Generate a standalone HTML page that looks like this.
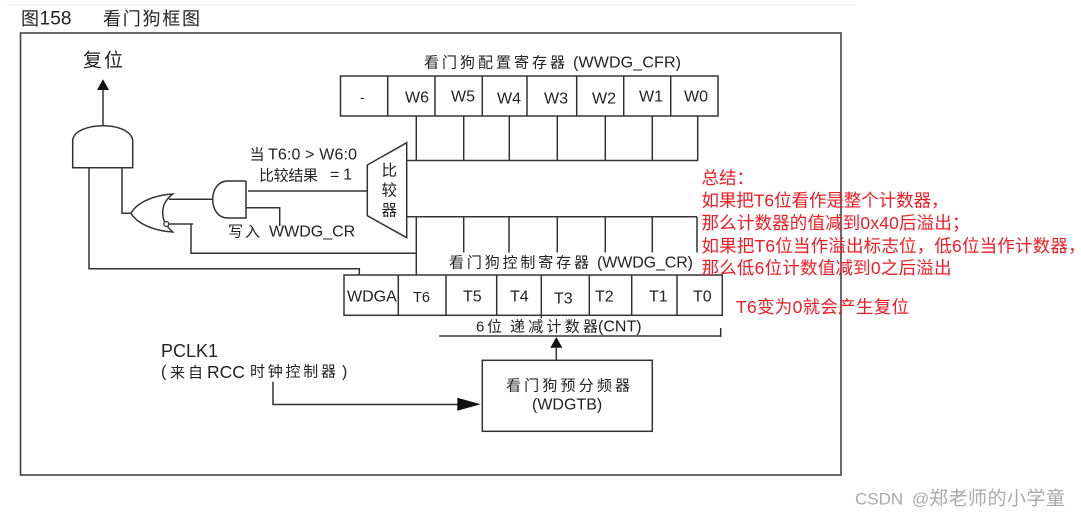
<!DOCTYPE html>
<html lang="zh">
<head>
<meta charset="utf-8">
<title>看门狗框图</title>
<style>
html,body{margin:0;padding:0;background:#fff;width:1081px;height:518px;overflow:hidden}
svg{display:block}
text{font-family:"Liberation Sans","Noto Sans CJK SC",sans-serif;fill:#222;dominant-baseline:central}
.r{fill:#f01c24;font-size:17.5px}
.l{fill:none;stroke:#333;stroke-width:1.5}
.c{font-size:15px}
.a{font-size:16px}
.g{fill:#aaa}
</style>
</head>
<body>
<svg width="1081" height="518" viewBox="0 0 1081 518" xmlns="http://www.w3.org/2000/svg">
<line x1="7" y1="4.5" x2="855" y2="4.5" stroke="#f0f0f0" stroke-width="1"/>
<rect x="20.5" y="33" width="820.5" height="442" fill="none" stroke="#444" stroke-width="1.6"/>

<text x="21" y="19" font-size="18">图</text>
<text x="39.5" y="19" font-size="19" textLength="32">158</text>
<text x="103" y="19" font-size="18" textLength="97">看门狗框图</text>
<text x="83" y="61" font-size="19" textLength="40">复位</text>

<!-- CFR register -->
<text class="c" x="424" y="63" textLength="141">看门狗配置寄存器</text>
<text class="a" x="573" y="63" font-size="16.3" textLength="108">(WWDG_CFR)</text>
<rect x="340.5" y="76" width="377.5" height="40" class="l"/>
<path class="l" d="M387.7 76V116M435 76V116M482.3 76V116M527 76V116M576.7 76V116M623.7 76V116M670.7 76V116"/>
<text x="360" y="97" font-size="14">-</text>
<text class="a" x="405" y="98">W6</text>
<text class="a" x="451" y="97">W5</text>
<text class="a" x="497" y="99">W4</text>
<text class="a" x="544" y="99">W3</text>
<text class="a" x="592" y="99">W2</text>
<text class="a" x="639" y="97">W1</text>
<text class="a" x="684" y="97">W0</text>

<!-- upper bus -->
<path class="l" d="M416.3 116V160.5M463.7 116V160.5M509.3 116V160.5M557.3 116V160.5M605.3 116V160.5M652.3 116V160.5M697.7 116V160.5M406 160.5H698"/>

<!-- comparator -->
<polygon class="l" points="406.7,142.7 367.3,165 367.3,215.7 406.7,237.7"/>
<text x="381.5" y="171" font-size="15.5">比</text>
<text x="381.5" y="191" font-size="15.5">较</text>
<text x="381.5" y="211" font-size="15.5">器</text>

<!-- lower bus -->
<path class="l" d="M406 216.7H697M416.3 216.7V275M463.7 216.7V252.5M509 216.7V252.5M557.3 216.7V252.5M605.3 216.7V252.5M652.3 216.7V252.5M697 216.7V252.5"/>

<!-- labels and wires at comparator -->
<text class="c" x="249.5" y="155">当</text>
<text class="a" x="268" y="155" textLength="89">T6:0 &gt; W6:0</text>
<text class="c" x="259" y="176" textLength="59">比较结果</text>
<text class="a" x="330" y="175" textLength="22">= 1</text>
<path class="l" d="M248 191H367.3"/>
<path class="l" d="M246 181H228C217 181 212.7 191 212.7 199.5C212.7 208 217 218 228 218H246V181"/>
<path class="l" d="M246 207.7H279.7V226"/>
<path class="l" d="M169 199.3H213"/>
<text class="c" x="228" y="232" textLength="32">写入</text>
<text class="a" x="269" y="232">WWDG_CR</text>

<!-- NOR gate -->
<path class="l" d="M172.7 194C155 195 137 202 131 213.3C137 224 155 231 172.7 232C164 224 162.7 218 162.7 213C162.7 207 164 201 172.7 194Z"/>
<circle cx="166.3" cy="224" r="2.5" fill="#fff" stroke="#333" stroke-width="1.2"/>
<path class="l" d="M169 224H193M191 224V253.3H416.3"/>
<path class="l" d="M131 213.3H122V167.7"/>

<!-- large AND gate -->
<path class="l" d="M72.7 167.7V140C74 131 88 125.7 103 125.7C118 125.7 131 131 132.7 140V167.7Z"/>
<path class="l" d="M103 125.7V90"/>
<polygon points="103,79.3 97,90 109,90" fill="#111"/>
<path class="l" d="M89 167.7V268.7H359.3V275"/>

<!-- CR register -->
<text class="c" x="449" y="263" textLength="140">看门狗控制寄存器</text>
<text class="a" x="597" y="263" textLength="96">(WWDG_CR)</text>
<rect x="344" y="275" width="378.3" height="40.3" class="l"/>
<path class="l" d="M398.3 275V315.3M446 275V315.3M496.7 275V315.3M541.3 275V318M589.3 275V315.3M631.7 275V315.3M677 275V315.3"/>
<text class="a" x="347" y="297">WDGA</text>
<text x="413" y="298" font-size="14.5">T6</text>
<text class="a" x="463" y="297">T5</text>
<text class="a" x="510" y="297">T4</text>
<text class="a" x="554" y="299">T3</text>
<text class="a" x="595" y="297">T2</text>
<text class="a" x="649" y="297">T1</text>
<text class="a" x="693" y="297">T0</text>

<!-- counter -->
<text class="c" x="476" y="327" textLength="26">6位</text>
<text class="c" x="510" y="327" textLength="88">递减计数器</text>
<text class="a" x="598" y="327">(CNT)</text>
<path class="l" d="M439.3 336H720.7M720.7 328V337"/>
<polygon points="556.3,337 550.3,347.7 562.3,347.7" fill="#111"/>
<path class="l" d="M556.3 347V360"/>

<!-- prescaler -->
<rect x="482.3" y="360.3" width="170" height="71" class="l"/>
<text class="c" x="506" y="386" textLength="124">看门狗预分频器</text>
<text class="a" x="532" y="405">(WDGTB)</text>

<!-- PCLK -->
<text x="161" y="351" font-size="18">PCLK1</text>
<text x="161" y="372" font-size="16">(</text>
<text class="c" x="170" y="373" textLength="33">来自</text>
<text x="207" y="372" font-size="17.5">RCC</text>
<text class="c" x="250" y="372" textLength="86">时钟控制器</text>
<text x="342" y="372" font-size="16">)</text>
<path class="l" d="M273 381.7V404.5H458"/>
<polygon points="480.7,404.3 457.3,397.8 457.3,410.8" fill="#111"/>

<!-- red notes -->
<text class="r" x="701.5" y="178">总结：</text>
<text class="r" x="701.5" y="200.7" textLength="247">如果把T6位看作是整个计数器，</text>
<text class="r" x="701.5" y="223" textLength="268">那么计数器的值减到0x40后溢出；</text>
<text class="r" x="701.5" y="246" textLength="384">如果把T6位当作溢出标志位，低6位当作计数器，</text>
<text class="r" x="701.5" y="268" textLength="250">那么低6位计数值减到0之后溢出</text>
<text class="r" x="736" y="307" textLength="173">T6变为0就会产生复位</text>

<text class="g" x="855" y="499" font-size="17">CSDN</text>
<text class="g" x="912" y="499" font-size="17">@</text>
<text class="g" x="929" y="499" font-size="19" textLength="136">郑老师的小学童</text>
</svg>
</body>
</html>
